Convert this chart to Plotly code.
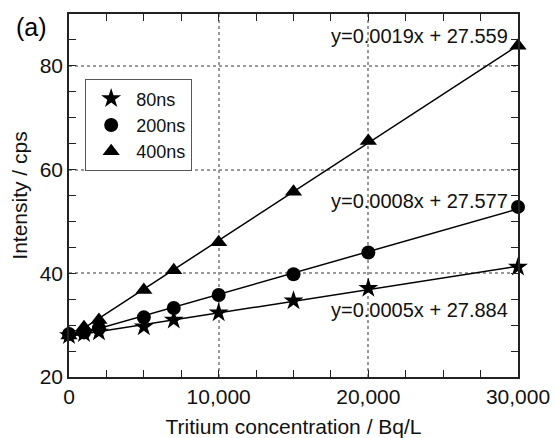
import numpy as np
import plotly.graph_objects as go

conc = [0, 1000, 2000, 5000, 7000, 10000, 15000, 20000, 30000]
i80 = [28.0, 28.4, 28.7, 29.7, 31.0, 32.4, 34.7, 37.1, 41.2]
i200 = [28.3, 28.6, 29.4, 31.5, 33.3, 35.8, 39.8, 44.0, 52.8]
i400 = [28.0, 29.6, 31.0, 36.8, 40.6, 46.0, 55.7, 65.5, 83.9]
names = ["80ns", "200ns", "400ns"]
symbols = ["star", "circle", "triangle-up"]
sizes = [15, 14, 15]
fit_labels = ["y=0.0005x + 27.884", "y=0.0008x + 27.577", "y=0.0019x + 27.559"]
label_y = [32.9, 54.0, 85.8]
x_ticks = [0, 10000, 20000, 30000]
x_ticktext = ["0", "10,000", "20,000", "30,000"]

FONT = "Arial, 'Liberation Sans', sans-serif"

fig = go.Figure()
series = [i80, i200, i400]
xline = np.array([min(conc), max(conc)])
for s in series:
    k, b = np.polyfit(conc, s, 1)
    fig.add_trace(go.Scatter(x=xline, y=k * xline + b, mode="lines",
                             line=dict(color="black", width=1.5),
                             showlegend=False, hoverinfo="skip"))
for s, name, sym, sz in zip(series, names, symbols, sizes):
    fig.add_trace(go.Scatter(x=conc, y=s, mode="markers", name=name,
                             marker=dict(symbol=sym, size=sz, color="black"),
                             cliponaxis=False))

for txt, yy in zip(fit_labels, label_y):
    fig.add_annotation(x=0.983, xref="paper", y=yy, yref="y", text=txt,
                       showarrow=False, xanchor="right", yanchor="middle",
                       font=dict(size=20, color="#111"))

fig.add_annotation(x=-0.122, xref="paper", y=0.964, yref="paper", text="(a)",
                   showarrow=False, xanchor="left", yanchor="middle",
                   font=dict(size=25, color="black"))

axis_common = dict(showline=True, linecolor="#222", linewidth=1.5, mirror="allticks",
                   ticks="inside", ticklen=7, tickcolor="#222", tickwidth=1.2,
                   showgrid=True, gridcolor="#999", griddash="dot", gridwidth=1.5,
                   zeroline=False, tickfont=dict(size=21, color="#111"),
                   automargin=False)

fig.update_xaxes(range=[0, 30000], tickvals=x_ticks, ticktext=x_ticktext,
                 minor=dict(dtick=2500, ticks="inside", ticklen=7, tickcolor="#222", showgrid=False),
                 title=dict(text="Tritium concentration / Bq/L", font=dict(size=21, color="#111"), standoff=16),
                 **axis_common)
fig.update_yaxes(range=[20, 90], dtick=20, tick0=0,
                 minor=dict(dtick=5, ticks="inside", ticklen=7, tickcolor="#222", showgrid=False),
                 title=dict(text="Intensity / cps", font=dict(size=21, color="#111"), standoff=6),
                 **axis_common)

fig.update_layout(
    width=554, height=438,
    margin=dict(l=69, r=36, t=14, b=61),
    paper_bgcolor="white", plot_bgcolor="white",
    font=dict(family=FONT, color="#111"),
    legend=dict(x=0.036, y=0.82, xanchor="left", yanchor="top",
                bordercolor="#555", borderwidth=1, bgcolor="white",
                font=dict(size=18, color="#111"), tracegroupgap=0,
                itemwidth=40),
)

fig.write_html("out.html", config={"displayModeBar": False},
               post_script="document.body.style.margin='0px';document.body.style.overflow='hidden';")
